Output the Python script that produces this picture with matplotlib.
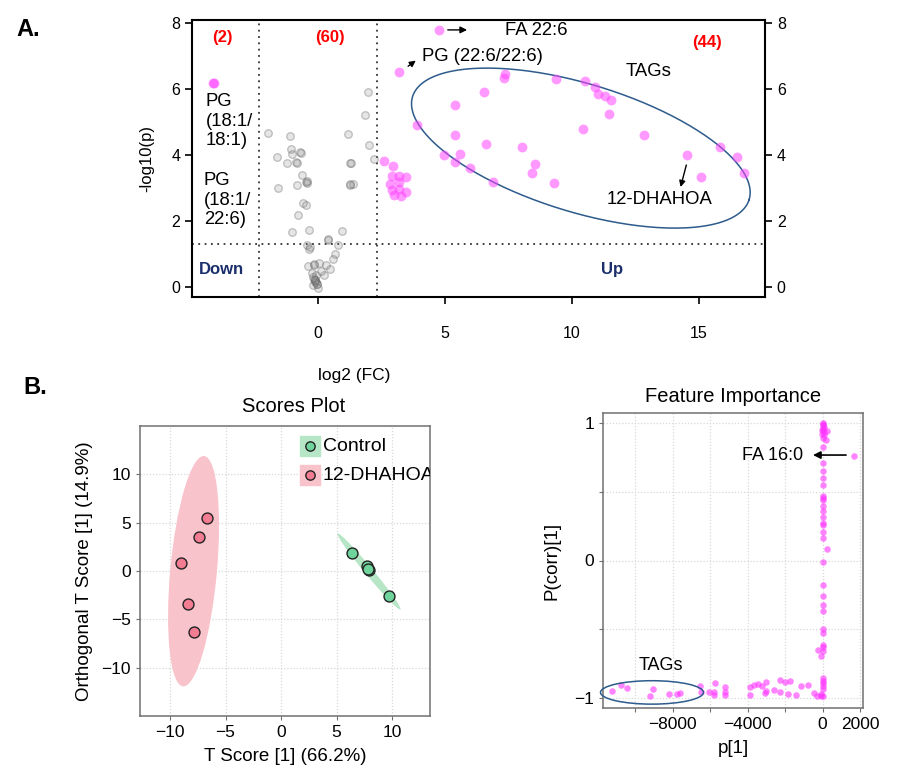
import numpy as np
import matplotlib
matplotlib.use("Agg")
import matplotlib.pyplot as plt
from matplotlib.patches import Ellipse

plt.rcParams['font.family'] = ['Liberation Sans', 'DejaVu Sans']

# ---- A. volcano plot data (log2 FC, -log10 p)
grey_x = [-1.98, -1.09, -1.05, -1.61, -1.01, -0.68, -1.22, -0.85, -0.82, -0.64, -0.46, -0.44,
          -0.83, -1.59, -0.60, -0.48, -0.78, -1.02, -0.34, 0.38, 0.40, 0.94, 0.80, -0.44,
          -0.35, 0.68, 0.60, -0.41, -0.16, -0.14, 0.31, 0.47, -0.24, 0.25, -0.16, -0.11,
          -0.09, -0.05, 0.01, -0.08, -0.18, 1.84, 1.96, 1.17, 2.00, 2.22, 1.27, 1.29,
          1.27, 1.38, -0.20, -0.12, -0.02, 0.05, -0.30, 0.10, -0.70, 1.25, -0.45, -0.10]
grey_y = [4.66, 4.59, 4.19, 3.94, 4.02, 4.06, 3.77, 3.78, 3.76, 3.39, 3.17, 3.15,
          3.10, 3.00, 2.55, 2.48, 2.18, 1.66, 1.72, 1.44, 1.45, 1.70, 1.27, 1.27,
          1.14, 0.99, 0.85, 0.65, 0.70, 0.68, 0.66, 0.56, 0.44, 0.36, 0.26, 0.16,
          0.14, 0.08, -0.02, 0.36, 0.06, 5.21, 5.90, 4.64, 4.30, 3.87, 3.77, 3.75,
          3.10, 3.13, 0.30, 0.20, 0.10, 0.72, 1.20, 0.50, 4.10, 3.12, 3.20, 0.22]

up_x = [4.75, 3.20,
        7.36, 7.34, 9.37, 6.52, 5.41, 3.88, 5.39, 6.61, 8.02, 4.96, 5.58, 5.39, 5.97,
        8.56, 8.41, 6.89, 9.28,
        2.61, 2.94, 2.90, 3.20, 3.45, 2.85, 3.20, 2.90, 3.20, 3.45, 3.00, 3.25,
        10.51, 10.89, 11.01, 11.30, 11.54, 11.44, 10.45, 12.82, 14.54, 15.81, 16.50, 16.76, 15.07]
up_y = [7.79, 6.50,
        6.45, 6.32, 6.30, 5.90, 5.51, 4.91, 4.60, 4.32, 4.24, 3.99, 4.03, 3.78, 3.62,
        3.74, 3.47, 3.17, 3.15,
        3.82, 3.68, 3.35, 3.38, 3.32, 3.12, 3.18, 2.95, 2.98, 2.88, 2.80, 2.76,
        6.25, 6.05, 5.84, 5.79, 5.67, 5.24, 4.79, 4.61, 3.99, 4.24, 3.93, 3.47, 3.33]

down_x = [-4.12, -4.10]
down_y = [6.19, 6.18]

# ---- B. OPLS-DA scores
ctrl_t = [6.4, 7.7, 7.9, 7.8, 9.7]
ctrl_o = [1.9, 0.5, 0.1, 0.2, -2.6]
dha_t = [-6.7, -7.4, -9.0, -8.4, -7.8]
dha_o = [5.5, 3.5, 0.8, -3.4, -6.3]

# ---- B. feature importance (p[1], p(corr)[1])
load_p = [0, 50, -30, 230, 50, 200, 20, 0, 60, 10, -20, 30,
          0, 0, 0, 0, 0, 0, 0, 0, 0, 0, 0, 0, 0, 0, 0, 0, 250, 0,
          0, 0, 0, 0, 0, 0, 0, 0, 0, -245, -100, 0, 0, 0, 0, 0, -80, 0,
          1650,
          -11232, -10752, -10416, -9045, -9227, -8176, -7765, -7589, -6523, -6469,
          -6043, -5813, -5723, -5776, -5227, -5227, -5189, -3856, -3856, -3643,
          -3445, -3232, -3019, -3003, -3093, -2613, -2256, -2256, -2027, -1723,
          -1845, -1403, -1152, -779, -480, -299, -69]
load_pc = [0.996, 0.972, 0.948, 0.936, 0.912, 0.876, 0.985, 0.96, 0.93, 0.99, 0.92, 0.95,
           0.888, 0.823, 0.707, 0.646, 0.598, 0.55, 0.465, 0.454, 0.441, 0.393, 0.357, 0.316,
           0.273, 0.26, 0.205, 0.164, 0.08, -0.01,
           -0.179, -0.258, -0.326, -0.364, -0.5, -0.524, -0.615, -0.624, -0.66, -0.649,
           -0.692, -0.849, -0.873, -0.89, -0.91, -0.933, -0.97, -0.98,
           0.755,
           -0.950, -0.902, -0.926, -0.929, -0.982, -0.972, -0.972, -0.962, -0.909, -0.957,
           -0.953, -0.957, -0.888, -0.975, -0.921, -0.953, -0.977, -0.921, -0.977, -0.904,
           -0.895, -0.909, -0.878, -0.946, -0.962, -0.938, -0.868, -0.957, -0.880, -0.873,
           -0.970, -0.977, -0.909, -0.904, -0.962, -0.982, -0.982]

fig = plt.figure(figsize=(8.97, 7.76), dpi=100)

# ================= A. volcano =================
ax = fig.add_axes([192/897, 1-297/776, 573/897, 277/776])
ax.scatter(grey_x, grey_y, s=30, facecolor=(0.55, 0.55, 0.55, 0.22),
           edgecolor=(0.35, 0.35, 0.35, 0.35), linewidth=0.9, zorder=3)
ax.scatter(up_x, up_y, s=50, color='#ff44ff', alpha=0.55, linewidth=0, zorder=3)
ax.scatter(down_x, down_y, s=50, color='#ff44ff', alpha=0.55, linewidth=0, zorder=3)

fc_cut = np.log2(5)
p_cut = -np.log10(0.05)
for xv in (-fc_cut, fc_cut):
    ax.axvline(xv, color='#333333', ls=(0, (1, 2.5)), lw=1.3)
ax.axhline(p_cut, color='#333333', ls=(0, (1, 2.5)), lw=1.3)

# TAG ellipse, drawn in pixel-isotropic space then mapped to data
sx, sy = 25.4, 33.0
t = np.linspace(0, 2*np.pi, 300)
a_px, b_px, phi = 176, 64, np.deg2rad(-17)
ex = a_px*np.cos(t)*np.cos(phi) - b_px*np.sin(t)*np.sin(phi)
ey = a_px*np.cos(t)*np.sin(phi) + b_px*np.sin(t)*np.cos(phi)
ax.plot(10.35 + ex/sx, 4.21 + ey/sy, color='#2d5b8c', lw=1.1, zorder=2)

ax.set_xlim(-4.96, 17.6)
ax.set_ylim(-0.3, 8.09)
ax.set_xticks([0, 5, 10, 15])
ax.set_yticks([0, 2, 4, 6, 8])
ax.tick_params(axis='x', length=5, width=1.2, pad=16, labelsize=11.5)
ax.tick_params(axis='y', length=5, width=1.2, labelsize=11.5, right=True, labelright=True)
for s in ax.spines.values():
    s.set_linewidth(1.5)
ax.set_ylabel('-log10(p)', fontsize=12, labelpad=12)
fig.text(354/897, 1-375/776, 'log2 (FC)', fontsize=12.5, ha='center', va='center')

ann = 13.3
ax.text(-3.78, 7.55, '(2)', color='#ff0000', fontweight='bold', fontsize=12, ha='center', va='center')
ax.text(0.47, 7.55, '(60)', color='#ff0000', fontweight='bold', fontsize=12, ha='center', va='center')
ax.text(15.3, 7.42, '(44)', color='#ff0000', fontweight='bold', fontsize=12, ha='center', va='center')
ax.text(-3.82, 0.52, 'Down', color='#1a2f6b', fontweight='bold', fontsize=12, ha='center', va='center')
ax.text(11.57, 0.52, 'Up', color='#1a2f6b', fontweight='bold', fontsize=12, ha='center', va='center')
ax.text(-4.41, 5.88, 'PG\n(18:1/\n18:1)', fontsize=ann, ha='left', va='top', linespacing=1.2)
ax.text(-4.49, 3.48, 'PG\n(18:1/\n22:6)', fontsize=ann, ha='left', va='top', linespacing=1.2)
ax.text(13.0, 6.52, 'TAGs', fontsize=ann, ha='center', va='center')
ax.text(13.46, 2.64, '12-DHAHOA', fontsize=ann, ha='center', va='center')
ax.annotate('', xy=(5.98, 7.79), xytext=(5.0, 7.79),
            arrowprops=dict(arrowstyle='-|>', color='black', lw=1, mutation_scale=10))
ax.text(7.36, 7.78, 'FA 22:6', fontsize=ann, ha='left', va='center')
ax.annotate('', xy=(3.94, 6.91), xytext=(3.46, 6.64),
            arrowprops=dict(arrowstyle='-|>', color='black', lw=1, mutation_scale=9))
ax.text(4.09, 6.97, 'PG (22:6/22:6)', fontsize=ann, ha='left', va='center')
ax.annotate('', xy=(14.25, 2.95), xytext=(14.53, 3.78),
            arrowprops=dict(arrowstyle='-|>', color='black', lw=1, mutation_scale=9))

fig.text(28/897, 1-30/776, 'A.', fontsize=17, fontweight='bold', ha='center', va='center')
fig.text(35/897, 1-388/776, 'B.', fontsize=17, fontweight='bold', ha='center', va='center')

grid_kw = dict(color='#d8d8d8', ls=(0, (1, 1.5)), lw=0.9)
spine_col = '#707070'

# ================= B. scores plot =================
bx = fig.add_axes([140/897, 1-716/776, 290/897, 290/776])
bx.add_patch(Ellipse((-7.88, -0.02), width=4.2, height=23.9, angle=-4.5,
                     facecolor='#f9c3cb', edgecolor='none', zorder=1))
bx.add_patch(Ellipse((7.91, -0.05), width=9.7, height=0.75, angle=-54.3,
                     facecolor='#b6e6c6', edgecolor='none', zorder=1))
bx.scatter(dha_t, dha_o, s=62, facecolor='#f27d92', edgecolor='#222222', linewidth=1, zorder=3)
bx.scatter(ctrl_t, ctrl_o, s=62, facecolor='#6fd49b', edgecolor='#222222', linewidth=1, zorder=3)
bx.set_xlim(-12.7, 13.4)
bx.set_ylim(-15, 15)
bx.set_xticks([-10, -5, 0, 5, 10])
bx.set_yticks([-10, -5, 0, 5, 10])
bx.grid(True, **grid_kw)
bx.set_axisbelow(True)
bx.tick_params(length=3, color=spine_col, labelsize=12.5)
for s in bx.spines.values():
    s.set_color(spine_col)
    s.set_linewidth(1.1)
bx.set_title('Scores Plot', fontsize=14.5, pad=10, x=0.53)
bx.set_xlabel('T Score [1] (66.2%)', fontsize=13.5, labelpad=6)
bx.set_ylabel('Orthogonal T Score [1] (14.9%)', fontsize=13.5, labelpad=6)

# legend drawn by hand (square key behind circle, clipped text like the original)
for yy, face, key, lab in [(0.93, '#6fd49b', '#b6e6c6', 'Control'),
                            (0.83, '#f27d92', '#f9c3cb', '12-DHAHOA')]:
    bx.scatter([0.585], [yy], s=190, marker='s', color=key, transform=bx.transAxes, zorder=4)
    bx.scatter([0.585], [yy], s=45, facecolor=face, edgecolor='#222222', linewidth=1,
               transform=bx.transAxes, zorder=5)
    bx.text(0.63, yy, lab, fontsize=14, ha='left', va='center', transform=bx.transAxes,
            clip_on=True, zorder=5)

# ================= B. feature importance =================
cx = fig.add_axes([603/897, 1-708/776, 260/897, 295/776])
cx.scatter(load_p, load_pc, s=22, color='#ff33ff', alpha=0.6, linewidth=0, zorder=3)
cx.add_patch(Ellipse((-9100, -0.957), width=5490, height=0.17, facecolor='none',
                     edgecolor='#2d5b8c', lw=1.1, zorder=4, clip_on=False))
cx.set_xlim(-11712, 2155)
cx.set_ylim(-1.07, 1.07)
cx.set_xticks([-10000, -8000, -6000, -4000, -2000, 0, 2000])
cx.set_xticklabels(['', '\u22128000', '', '\u22124000', '', '0', '2000'])
cx.set_yticks([-1, -0.5, 0, 0.5, 1])
cx.set_yticklabels(['\u22121', '', '0', '', '1'])
cx.grid(True, **grid_kw)
cx.set_axisbelow(True)
cx.tick_params(length=3, color=spine_col, labelsize=12.5)
for s in cx.spines.values():
    s.set_color(spine_col)
    s.set_linewidth(1.1)
cx.set_title('Feature Importance', fontsize=14.5, pad=8)
cx.set_xlabel('p[1]', fontsize=13.5, labelpad=6)
cx.set_ylabel('P(corr)[1]', fontsize=13.5, labelpad=10)
cx.text(-8650, -0.76, 'TAGs', fontsize=13, ha='center', va='center')
cx.annotate('', xy=(-660, 0.765), xytext=(1400, 0.765),
            arrowprops=dict(arrowstyle='-|>', color='black', lw=1.2, mutation_scale=11))
cx.text(-1040, 0.765, 'FA 16:0', fontsize=13, ha='right', va='center')

fig.savefig('out.png', dpi=100)
